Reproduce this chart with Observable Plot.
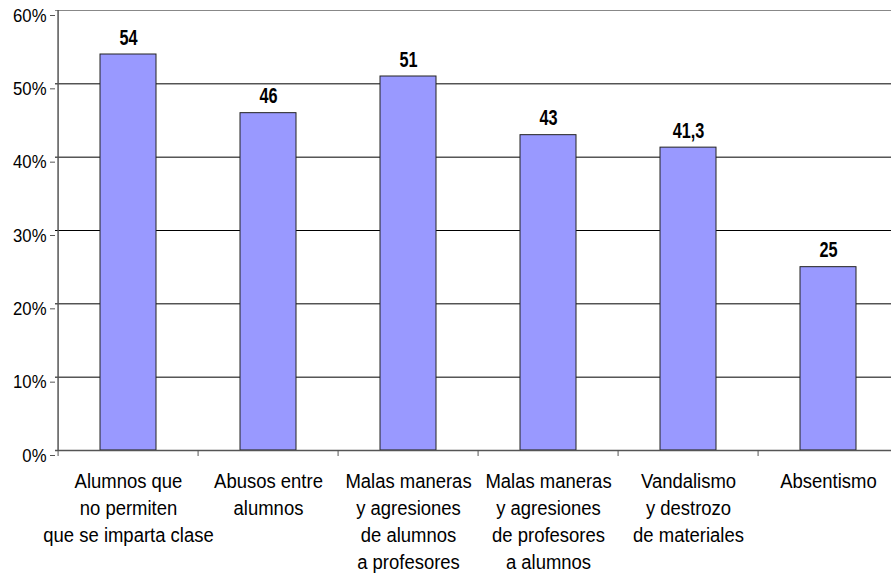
<!DOCTYPE html>
<html><head><meta charset="utf-8">
<script src="https://cdn.jsdelivr.net/npm/d3@7"></script>
<script src="https://cdn.jsdelivr.net/npm/@observablehq/plot@0.6"></script>
<style>
html,body{margin:0;padding:0;background:#fff;overflow:hidden;}
#chart{width:891px;height:577px;overflow:hidden;}
#chart svg{max-width:none !important;}
</style></head>
<body><div id="chart"></div>
<script>
const categories = [
  "Alumnos que\nno permiten\nque se imparta clase",
  "Abusos entre\nalumnos",
  "Malas maneras\ny agresiones\nde alumnos\na profesores",
  "Malas maneras\ny agresiones\nde profesores\na alumnos",
  "Vandalismo\ny destrozo\nde materiales",
  "Absentismo"
];
const values = [54, 46, 51, 43, 41.3, 25];
const yTicks = [0, 10, 20, 30, 40, 50, 60];
const gridTicks = [10, 20, 30, 40, 50];

const data = categories.map((c, i) => ({cat: c, v: values[i]}));
const font = "'Liberation Sans', Arial, sans-serif";
const W = 900, H = 577, ml = 55, mr = 0, mt = 10, mb = 127;
const step = (W - ml - mr) / categories.length;

const plot = Plot.plot({
  width: W, height: H,
  marginLeft: ml, marginRight: mr, marginTop: mt, marginBottom: mb,
  style: {fontFamily: font, background: "#fff", color: "#000", overflow: "visible"},
  x: {domain: categories, paddingInner: 0.6, paddingOuter: 0.3, align: 0.5, label: null},
  y: {domain: [0, 60], label: null},
  marks: [
    Plot.ruleY(gridTicks, {stroke: "#000", strokeWidth: 1}),
    Plot.ruleY([60], {stroke: "#888", strokeWidth: 1}),
    Plot.barY(data, {x: "cat", y: "v", fill: "#9999FF", stroke: "#222", strokeWidth: 1}),
    Plot.text(data, {x: "cat", y: "v", text: d => String(d.v).replace(".", ","),
      lineAnchor: "bottom", dy: -10, fontSize: 22, fontWeight: "bold", fill: "#000", className: "vals"}),
    Plot.ruleY([0], {stroke: "#555", strokeWidth: 1.5}),
    Plot.ruleX([0], {x: () => categories[0], dx: -step / 2, y1: 0, y2: 60, stroke: "#555", strokeWidth: 1.5}),
    Plot.axisY({ticks: yTicks, tickFormat: d => d + "%", tickSize: 5, tickPadding: 4,
      fontSize: 19, dy: 5, stroke: "#555", label: null}),
    Plot.axisX({tickSize: 6, dx: -step / 2, tickFormat: () => "", stroke: "#555", label: null}),
    Plot.axisX({tickSize: 0, tickPadding: 18, fontSize: 21, lineHeight: 1.29, lineAnchor: "top", label: null})
  ]
});
document.getElementById("chart").appendChild(plot);

// emulate a narrow typeface by condensing each text horizontally around its anchor
plot.querySelectorAll("text").forEach(el => {
  const s = el.closest(".vals") ? 0.74 : 0.88;
  const t = el.getAttribute("transform") || "";
  const xa = el.getAttribute("x");
  const x = xa !== null && !isNaN(+xa) ? +xa : 0;
  if (x !== 0) el.removeAttribute("x");
  el.setAttribute("transform", `${t} translate(${x},0) scale(${s},1)`);
});
</script></body></html>
